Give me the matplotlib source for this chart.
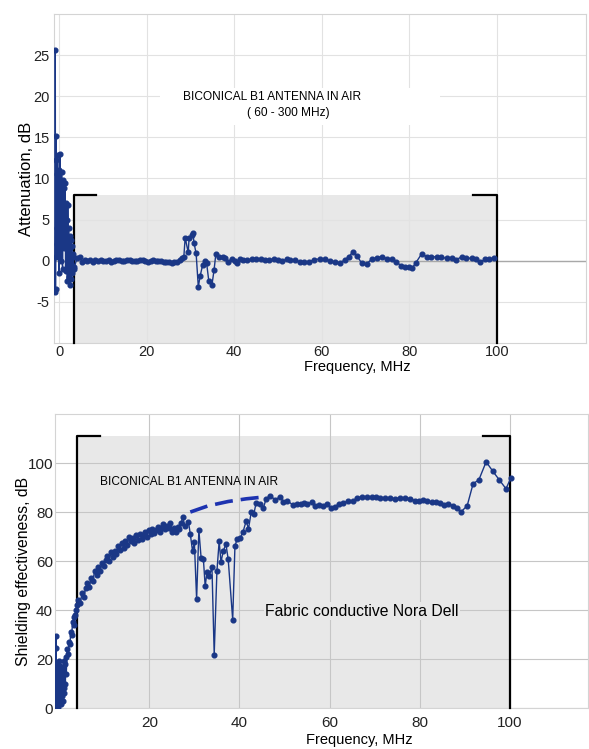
import numpy as np
import matplotlib.pyplot as plt
from matplotlib.patches import Rectangle

plt.rcParams['font.family'] = ['Liberation Sans', 'DejaVu Sans']
plt.rcParams['axes.unicode_minus'] = False

# ---- top panel: attenuation (dB) ----
att_f_start = [-0.9, -0.85, -0.8, -0.7, -0.65, -0.6, -0.5, -0.45, -0.4, -0.3, -0.25, -0.2, -0.1, -0.05,
               0.0, 0.1, 0.15, 0.2, 0.3, 0.35, 0.4, 0.5, 0.55, 0.6, 0.7, 0.75, 0.8, 0.9, 0.95, 1.0,
               1.1, 1.2, 1.3, 1.4, 1.5, 1.6, 1.7, 1.8, 1.9, 2.0, 2.1, 2.2, 2.3, 2.4, 2.5, 2.6, 2.7,
               2.8, 2.9, 3.0, 3.1, 3.2, 3.3, 3.4]
att_v_start = [-3.8, 25.6, -3.5, 15.2, 0.5, 12.2, 2.0, 10.5, 4.0, 12.8, 1.0, 10.2, 5.5, 11.0,
               -1.5, 9.0, 3.5, 13.0, 6.0, 9.5, 0.0, 8.0, 4.5, 10.8, 2.5, 7.5, -1.0, 9.8, 5.0, 6.5,
               1.5, 8.8, 3.0, 9.5, -1.2, 7.0, 2.0, 5.0, -2.5, 6.8, 0.5, 4.0, -2.0, 3.0, 1.5, -3.0, 2.5,
               -2.2, 1.8, -1.5, 0.8, -0.8, 0.5, -1.0]

att_f_flat = [3.5, 4.1, 4.7, 5.3, 5.9, 6.5, 7.1, 7.7, 8.3, 8.9, 9.5, 10.1, 10.7, 11.3, 11.9, 12.5,
              13.1, 13.7, 14.3, 14.9, 15.5, 16.1, 16.7, 17.3, 17.9, 18.5, 19.1, 19.7, 20.3, 20.9,
              21.5, 22.1, 22.7, 23.3, 23.9, 24.5, 25.1, 25.7, 26.3, 26.9]
att_v_flat = [-0.8, 0.3, 0.5, -0.2, 0.1, 0.0, 0.1, -0.1, 0.05, 0.0, 0.1, -0.05, 0.0, 0.1, -0.1, 0.0,
              0.05, 0.1, -0.05, 0.0, 0.05, 0.1, 0.0, -0.05, 0.0, 0.1, 0.05, 0.0, -0.1, 0.0,
              0.05, 0.0, -0.05, 0.0, -0.1, -0.15, -0.2, -0.25, -0.2, -0.1]

att_f_rest = [27.6, 28.1, 28.5, 28.8, 29.5, 29.7, 30.4, 30.6, 30.8, 31.3, 31.8, 32.2, 32.8, 33.3, 33.7,
              34.2, 34.9, 35.4, 35.8, 36.5, 37.4, 37.9, 38.6, 39.5, 40.2, 40.6, 41.3, 42.0, 43.0, 44.0,
              45.0, 46.0, 47.0, 48.0, 49.0, 50.0, 51.0, 52.0, 52.7, 53.8, 54.9, 56.0, 57.0, 58.2, 59.6,
              60.7, 61.8, 62.9, 64.1, 65.2, 66.2, 67.1, 68.0, 69.1, 70.3, 71.4, 72.6, 73.7, 74.8, 76.0,
              77.0, 78.0, 79.0, 79.9, 80.6, 81.4, 82.8, 83.9, 85.0, 86.2, 87.3, 88.5, 89.6, 90.6, 92.0,
              93.0, 94.2, 95.1, 96.0, 97.2, 98.2, 99.4]
att_v_rest = [0.1, 0.3, 0.5, 2.8, 1.0, 2.8, 3.1, 3.4, 2.2, 0.9, -3.2, -1.9, -0.5, 0.0, -0.3,
              -2.5, -3.0, -1.1, 0.8, 0.5, 0.5, 0.35, -0.1, 0.2, 0.0, -0.3, 0.2, 0.1, 0.1, 0.15,
              0.2, 0.15, 0.05, 0.1, 0.2, 0.1, 0.0, 0.15, 0.1, 0.05, -0.1, -0.15, -0.1, 0.1, 0.25,
              0.2, 0.0, -0.15, -0.3, 0.1, 0.5, 1.1, 0.6, -0.3, -0.35, 0.2, 0.35, 0.5, 0.25, 0.2,
              -0.1, -0.6, -0.75, -0.8, -0.9, -0.3, 0.85, 0.5, 0.5, 0.45, 0.4, 0.3, 0.3, 0.1, 0.5,
              0.3, 0.3, 0.2, -0.2, 0.15, 0.15, 0.35]

# ---- bottom panel: shielding effectiveness (dB) ----
se_f_start = [-0.9, -0.8, -0.7, -0.65, -0.6, -0.5, -0.4, -0.3, -0.2, -0.1, 0.0, 0.1, 0.2, 0.3, 0.4,
              0.5, 0.6, 0.7, 0.8, 0.9, 1.0, 1.1, 1.2, 1.3, 1.4, 1.5, 1.6, 1.8, 2.0, 2.2, 2.4, 2.6,
              2.8, 3.0, 3.2, 3.4, 3.6, 3.8, 4.0]
se_v_start = [0.5, 12, 29.6, 24.6, 3, 18, 1, 15, 0.5, 19, 2, 10, 6, 17, 1.5,
              12, 5, 16, 3, 14, 8, 19, 6, 18, 10, 21, 14, 24, 22, 27, 26, 31,
              30, 35, 34, 37, 38, 40, 42]

se_f_rise = [4.3, 4.7, 5.1, 5.5, 5.9, 6.3, 6.7, 7.1, 7.5, 7.9, 8.3, 8.7, 9.1, 9.5, 9.9, 10.3, 10.7,
             11.1, 11.5, 11.9, 12.3, 12.7, 13.1, 13.5, 13.9, 14.3, 14.7, 15.1, 15.5, 15.9, 16.3,
             16.7, 17.1, 17.5, 17.9, 18.3, 18.7, 19.1, 19.5, 19.9, 20.3, 20.7, 21.1, 21.5, 21.9,
             22.3, 22.7, 23.1, 23.5, 23.9, 24.3, 24.7, 25.1, 25.5, 25.9, 26.3, 26.7, 27.1]
se_v_rise = [44, 43, 47, 45.5, 49, 51, 49.5, 53, 52, 56, 54.5, 57.5, 56, 59, 58, 60.5, 62,
             60, 63.5, 61.5, 64, 63, 66, 64.5, 67.5, 65.5, 68, 66.5, 70, 68, 69.5,
             67.5, 70.5, 68.5, 71, 69, 70.5, 72, 70, 72.5, 71, 73, 71.5, 72.5, 74,
             72, 73.5, 75, 73, 74.5, 73.5, 75.5, 72, 73.5, 72, 74, 73, 75.5]

se_f_rest = [27.4, 27.9, 28.7, 29.1, 29.6, 30.0, 30.5, 31.0, 31.5, 32.0, 32.4, 32.8, 33.3, 33.9, 34.4,
             35.0, 35.5, 35.9, 36.4, 37.0, 37.5, 38.5, 39.0, 39.5, 40.1, 40.8, 41.5, 42.0, 42.6, 43.2,
             43.7, 44.6, 45.3, 45.9, 46.8, 47.9, 49.0, 49.7, 50.5, 51.8, 52.7, 53.6, 54.3, 55.0, 56.1,
             56.8, 57.7, 58.6, 59.5, 60.3, 61.2, 62.1, 63.0, 64.1, 65.2, 66.1, 67.2, 68.3, 69.4, 70.3,
             71.2, 72.3, 73.4, 74.5, 75.6, 76.7, 77.8, 78.9, 79.8, 80.7, 81.6, 82.7, 83.6, 84.5, 85.4,
             86.3, 87.4, 88.2, 89.1, 90.5, 91.8, 93.1, 94.7, 96.2, 97.6, 99.1, 100.2]
se_v_rest = [78, 74.4, 75.9, 71, 64, 67.7, 44.4, 72.7, 61.2, 60.8, 49.8, 55.4, 53.9, 57.5, 21.8,
             55.8, 68.1, 59.5, 64.1, 66.9, 60.8, 36.1, 66.2, 69, 69.3, 72, 76.4, 73.1, 79.9, 79.3,
             83.8, 83.4, 81.6, 85.4, 86.7, 85, 86.2, 84.3, 84.7, 83.0, 83.4, 83.4, 83.8, 83.1, 84.3,
             82.5, 83.0, 82.5, 83.1, 81.8, 82.1, 83.4, 83.8, 84.4, 84.7, 85.7, 86.3, 86.3, 86.1, 86.3,
             85.8, 85.7, 85.8, 85.4, 85.8, 85.7, 85.4, 84.7, 84.7, 85.1, 84.5, 84.1, 84.1, 83.7, 83.0,
             83.4, 82.5, 81.7, 80.0, 82.6, 91.5, 93.2, 100.5, 96.6, 93.2, 89.5, 94]

# hand drawn dashed guide
dash_f = [29.1, 33.0, 37.5, 41.5, 45.7]
dash_v = [80.0, 82.5, 84.3, 85.4, 86.2]

att_f = np.concatenate([att_f_start, att_f_flat, att_f_rest])
att_v = np.concatenate([att_v_start, att_v_flat, att_v_rest])
se_f = np.concatenate([se_f_start, se_f_rise, se_f_rest])
se_v = np.concatenate([se_v_start, se_v_rise, se_v_rest])

line_col = '#1a3786'
box_col = '#e8e8e8'

fig = plt.figure(figsize=(5.89, 7.49), dpi=100)
ax1 = fig.add_axes([0.0917, 0.5421, 0.9032, 0.4393])
ax2 = fig.add_axes([0.0934, 0.0547, 0.905, 0.3925])

# top
ax1.set_xlim(-1.14, 120.3)
ax1.set_ylim(-10, 30)
ax1.set_xticks([0, 20, 40, 60, 80, 100])
ax1.set_yticks([-5, 0, 5, 10, 15, 20, 25])
ax1.set_axisbelow(True)
ax1.grid(color='#e2e2e2', lw=0.8)
ax1.add_patch(Rectangle((3.5, -10), 96.5, 18, facecolor=box_col, edgecolor='none', zorder=0.3))
ax1.add_patch(Rectangle((23, 16.5), 64, 4.5, facecolor='white', edgecolor='none', zorder=0.7))
ax1.axhline(0, color='#a8a8a8', lw=1.0, zorder=1)
ax1.plot([8.4, 3.5, 3.5], [8, 8, -10], color='black', lw=1.6, zorder=3, clip_on=False)
ax1.plot([94.5, 100, 100], [8, 8, -10], color='black', lw=1.6, zorder=3, clip_on=False)
ax1.plot(att_f, att_v, color=line_col, lw=1.0, marker='o', ms=3.4, zorder=4)
ax1.text(48.6, 19.9, 'BICONICAL B1 ANTENNA IN AIR', fontsize=8.6, ha='center', va='center', zorder=5)
ax1.text(52.3, 17.95, '( 60 - 300 MHz)', fontsize=8.6, ha='center', va='center', zorder=5)
ax1.set_xlabel('Frequency, MHz', fontsize=10.5)
ax1.xaxis.set_label_coords(0.5695, -0.052)
ax1.set_ylabel('Attenuation, dB', fontsize=12)
ax1.yaxis.set_label_coords(-0.038, 0.5)

# bottom
ax2.set_xlim(-0.9, 117.3)
ax2.set_ylim(0, 120)
ax2.set_xticks([20, 40, 60, 80, 100])
ax2.set_yticks([0, 20, 40, 60, 80, 100])
ax2.set_axisbelow(True)
ax2.grid(color='#c6c6c6', lw=0.8)
ax2.add_patch(Rectangle((4, 0), 96, 111, facecolor=box_col, edgecolor='none', zorder=0.3))
ax2.plot([9, 4, 4], [111, 111, 0], color='black', lw=1.6, zorder=3, clip_on=False)
ax2.plot([94, 100, 100], [111, 111, 0], color='black', lw=1.6, zorder=3, clip_on=False)
ax2.plot(se_f, se_v, color=line_col, lw=1.0, marker='o', ms=3.4, zorder=4)
ax2.plot(dash_f, dash_v, color='#1d33b0', lw=2.6, dashes=(5, 2.2), zorder=4)
ax2.text(9.1, 92.2, 'BICONICAL B1 ANTENNA IN AIR', fontsize=8.6, ha='left', va='center', zorder=5)
ax2.text(45.7, 39.6, 'Fabric conductive Nora Dell', fontsize=11.3, ha='left', va='center', zorder=5,
         bbox=dict(facecolor=box_col, edgecolor='none', pad=1))
ax2.set_xlabel('Frequency, MHz', fontsize=10.5)
ax2.xaxis.set_label_coords(0.57, -0.085)
ax2.set_ylabel('Shielding effectiveness, dB', fontsize=11.3)
ax2.yaxis.set_label_coords(-0.045, 0.463)

for ax, xpad, ypad, fs in ((ax1, 1.5, 3, 10.5), (ax2, 6, 1.5, 11)):
    for s in ax.spines.values():
        s.set_color('#d4d4d4')
        s.set_linewidth(0.8)
    ax.tick_params(axis='x', length=0, pad=xpad, labelsize=fs, colors='#222222')
    ax.tick_params(axis='y', length=0, pad=ypad, labelsize=fs, colors='#222222')

fig.savefig('out.png', dpi=100)
